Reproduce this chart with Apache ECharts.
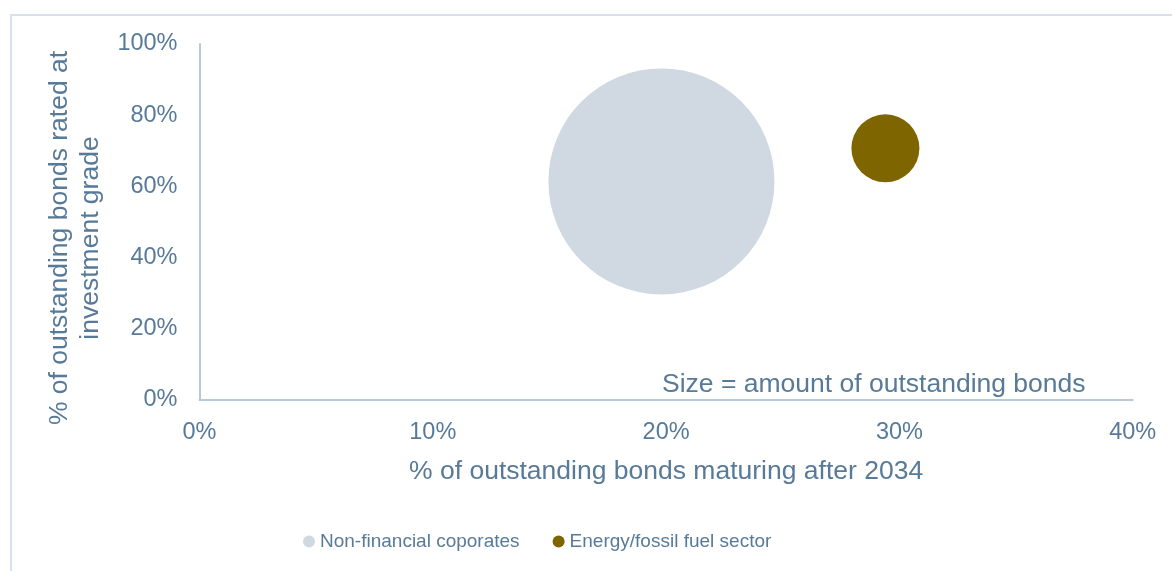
<!DOCTYPE html>
<html>
<head>
<meta charset="utf-8">
<script src="https://cdn.jsdelivr.net/npm/echarts@6/dist/echarts.min.js"></script>
<style>
html,body{margin:0;padding:0;background:#fff;}
#c{width:1172px;height:571px;}
</style>
</head>
<body>
<div id="c"></div>
<script>
// ---- data ----
const seriesNames = ["Non-financial coporates", "Energy/fossil fuel sector"];
const maturingAfter2034 = [19.8, 29.4];      // x, % of outstanding bonds maturing after 2034
const investmentGrade = [61.4, 70.7];        // y, % of outstanding bonds rated investment grade
const outstandingAmount = [1105, 100];       // relative amount of outstanding bonds (bubble area)
const xTicks = [0, 10, 20, 30, 40];
const yTicks = [0, 20, 40, 60, 80, 100];

const textColor = '#587a99';
const axisColor = '#b9c8d6';
const colors = ['#d0d9e1', '#7f6500'];
const FONT = '"Liberation Sans", Arial, sans-serif';

const chart = echarts.init(document.getElementById('c'));
const k = 6.8;
chart.setOption({
  animation: false,
  backgroundColor: '#fff',
  grid: {left: 199.5, right: 39.3, top: 44, bottom: 171, containLabel: false},
  xAxis: {
    type: 'value', min: xTicks[0], max: xTicks[xTicks.length - 1], interval: 10,
    name: '% of outstanding bonds maturing after 2034',
    nameLocation: 'middle', nameGap: 58,
    nameTextStyle: {color: textColor, fontSize: 26.5, fontFamily: FONT},
    axisLine: {show: true, lineStyle: {color: axisColor, width: 2}},
    axisTick: {show: false},
    splitLine: {show: false},
    axisLabel: {color: textColor, fontSize: 23.5, fontFamily: FONT, margin: 21,
      formatter: v => v + '%'}
  },
  yAxis: {
    type: 'value', min: yTicks[0], max: yTicks[yTicks.length - 1], interval: 20,
    name: '% of outstanding bonds rated at\ninvestment grade',
    nameLocation: 'middle', nameGap: 89,
    nameTextStyle: {color: textColor, fontSize: 26.5, fontFamily: FONT, lineHeight: 31,
      padding: [0, 32, 0, 0]},
    axisLine: {show: true, lineStyle: {color: axisColor, width: 2}},
    axisTick: {show: false},
    splitLine: {show: false},
    axisLabel: {color: textColor, fontSize: 23.5, fontFamily: FONT, margin: 22,
      padding: [5, 0, 0, 0],
      formatter: v => v + '%'}
  },
  legend: {
    left: 303, top: 532, padding: 0,
    icon: 'circle', itemWidth: 12, itemHeight: 12, itemGap: 33,
    textStyle: {color: textColor, fontSize: 19, fontFamily: FONT},
    data: seriesNames
  },
  graphic: [
    {type: 'rect', silent: true, z: -1,
      shape: {x: 11, y: 15, width: 1300, height: 700},
      style: {fill: 'none', stroke: '#d6e1eb', lineWidth: 2}},
    {type: 'text', left: 662, top: 371, silent: true,
      style: {text: 'Size = amount of outstanding bonds', fill: textColor,
        font: '26.5px ' + FONT}}
  ],
  series: seriesNames.map((name, i) => ({
    name: name,
    type: 'scatter',
    data: [[maturingAfter2034[i], investmentGrade[i], outstandingAmount[i]]],
    symbolSize: d => Math.sqrt(d[2]) * k,
    itemStyle: {color: colors[i], opacity: 1},
    emphasis: {disabled: true}
  }))
});
</script>
</body>
</html>
